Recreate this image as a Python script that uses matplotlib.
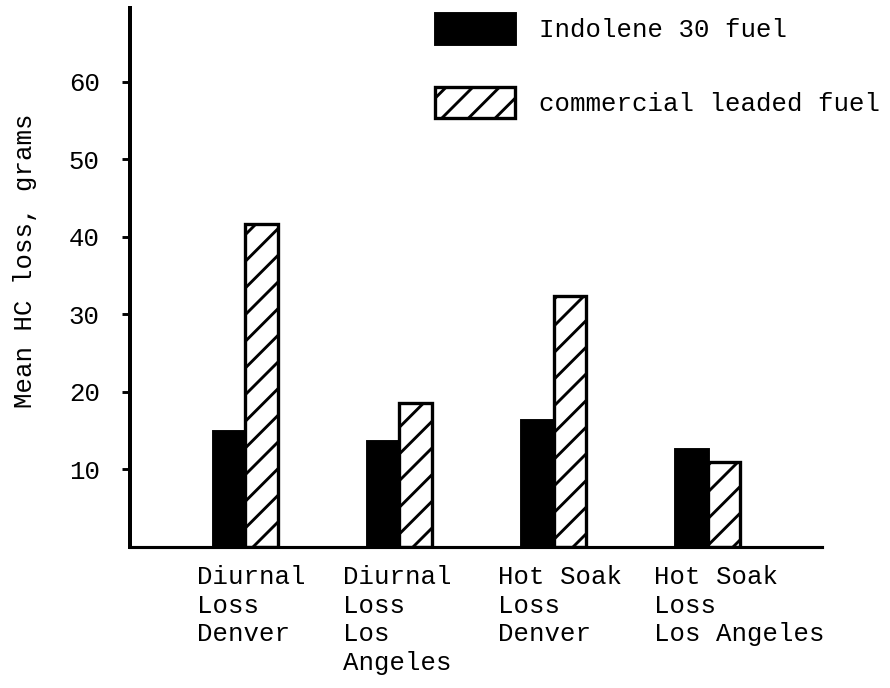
import numpy as np
import matplotlib
matplotlib.use("Agg")
import matplotlib.pyplot as plt
from matplotlib.patches import Patch

# data
categories = ["Diurnal\nLoss\nDenver", "Diurnal\nLoss\nLos\nAngeles",
              "Hot Soak\nLoss\nDenver", "Hot Soak\nLoss\nLos Angeles"]
indolene = [14.9, 13.7, 16.4, 12.7]
leaded = [41.6, 18.6, 32.4, 10.9]
series_names = ["Indolene 30 fuel", "commercial leaded fuel"]
yticks = [10, 20, 30, 40, 50, 60]

DPI = 160  # hatch spacing scales with dpi
plt.rcParams['font.family'] = ['Liberation Mono', 'DejaVu Sans Mono']
plt.rcParams['hatch.linewidth'] = 1.3
plt.rcParams['hatch.color'] = 'black'
fs = 11.6

fig = plt.figure(figsize=(890 / DPI, 688 / DPI), dpi=DPI)
ax = fig.add_axes([130 / 890, 1 - 547 / 688, 692 / 890, 539 / 688])

x = np.arange(len(categories))
w = 0.21
ax.bar(x - w / 2, indolene, w, color='black', edgecolor='black', linewidth=1.3)
ax.bar(x + w / 2, leaded, w, color='white', edgecolor='black', linewidth=1.5, hatch='//')

ax.set_xlim(-0.747, 3.74)
ax.set_ylim(0, 69.5)

for s in ['top', 'right']:
    ax.spines[s].set_visible(False)
ax.spines['left'].set_linewidth(1.8)
ax.spines['bottom'].set_linewidth(1.4)

ax.set_xticks([])
ax.set_yticks(yticks)
ax.tick_params(axis='y', direction='out', length=3.6, width=1.3, pad=10, labelsize=fs)

label_offsets = [-0.31, -0.365, -0.36, -0.35]
for xi, lab, off in zip(x, categories, label_offsets):
    ax.text(xi + off, -0.033, lab, transform=ax.get_xaxis_transform(),
            ha='left', va='top', fontsize=fs, linespacing=1.25)

ax.set_ylabel('Mean HC loss, grams', fontsize=fs)
ax.yaxis.set_label_coords(-0.134, 0.531)

handles = [Patch(facecolor='black', edgecolor='black', linewidth=1.3),
           Patch(facecolor='white', edgecolor='black', linewidth=1.5, hatch='//')]
fig.legend(handles, series_names, loc='upper left',
           bbox_to_anchor=(435 / 890, 1 - 13 / 688), frameon=False, fontsize=fs,
           borderpad=0, borderaxespad=0, handlelength=3.1, handleheight=1.5,
           labelspacing=1.65, handletextpad=0.95)

fig.savefig('out.png', dpi=DPI)
